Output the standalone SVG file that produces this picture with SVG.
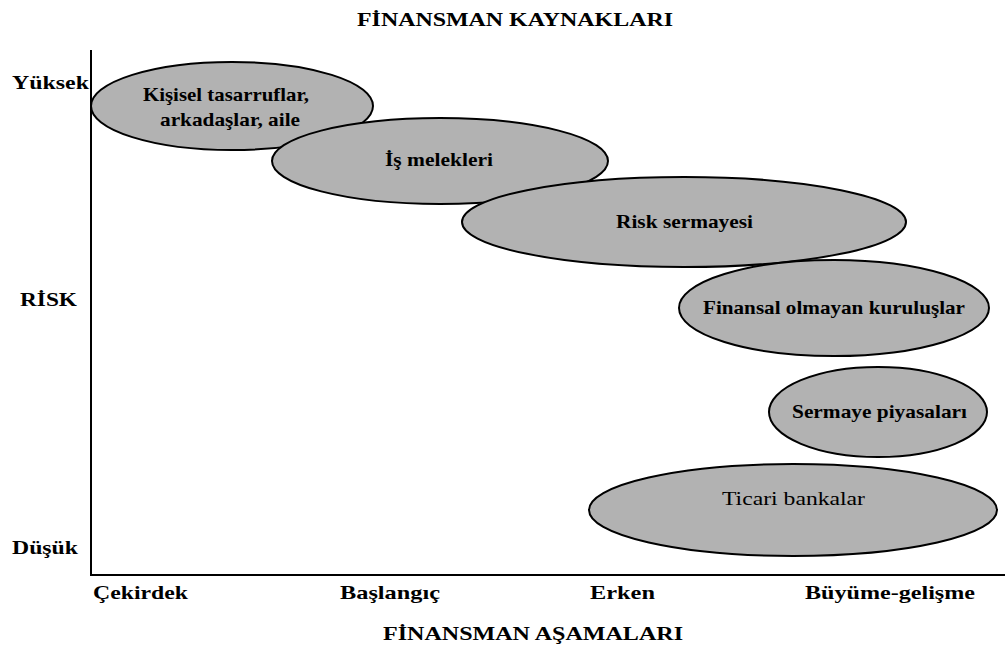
<svg xmlns="http://www.w3.org/2000/svg" width="1005" height="648" viewBox="0 0 1005 648">
<style>
.b{font-family:"Liberation Serif","Times New Roman",serif;font-weight:bold;font-size:19px;fill:#000}
.r{font-family:"Liberation Serif","Times New Roman",serif;font-size:19px;fill:#000}
.e{fill:#b2b2b2;stroke:#000;stroke-width:2}
</style>
<rect width="1005" height="648" fill="#fff"/>
<text class="b" x="357" y="26" font-size="20" textLength="316" lengthAdjust="spacingAndGlyphs">FİNANSMAN KAYNAKLARI</text>
<g id="axes" stroke="#000" stroke-width="2" fill="none">
<line x1="91" y1="50" x2="91" y2="576"/>
<line x1="90" y1="575" x2="1005" y2="575"/>
</g>
<g id="ylabels">
<text class="b" x="12" y="89" textLength="77" lengthAdjust="spacingAndGlyphs">Yüksek</text>
<text class="b" x="20" y="306" font-size="22" textLength="57" lengthAdjust="spacingAndGlyphs">RİSK</text>
<text class="b" x="12" y="554" textLength="66" lengthAdjust="spacingAndGlyphs">Düşük</text>
</g>
<g id="n1"><ellipse class="e" cx="232" cy="106" rx="141" ry="44"/>
<text class="b" x="143" y="101" textLength="166" lengthAdjust="spacingAndGlyphs">Kişisel tasarruflar,</text>
<text class="b" x="160" y="126" textLength="140" lengthAdjust="spacingAndGlyphs">arkadaşlar, aile</text></g>
<g id="n2"><ellipse class="e" cx="440" cy="161" rx="168" ry="43"/>
<text class="b" x="385" y="166" textLength="108" lengthAdjust="spacingAndGlyphs">İş melekleri</text></g>
<g id="n3"><ellipse class="e" cx="684" cy="222" rx="222" ry="45"/>
<text class="b" x="616" y="228" textLength="137" lengthAdjust="spacingAndGlyphs">Risk sermayesi</text></g>
<g id="n4"><ellipse class="e" cx="834" cy="308" rx="155" ry="48"/>
<text class="b" x="703" y="314" textLength="262" lengthAdjust="spacingAndGlyphs">Finansal olmayan kuruluşlar</text></g>
<g id="n5"><ellipse class="e" cx="878" cy="412" rx="109" ry="45"/>
<text class="b" x="792" y="418" textLength="175" lengthAdjust="spacingAndGlyphs">Sermaye piyasaları</text></g>
<g id="n6"><ellipse class="e" cx="793" cy="510" rx="204" ry="46"/>
<text class="r" x="722" y="505" textLength="143" lengthAdjust="spacingAndGlyphs">Ticari bankalar</text></g>
<g id="xlabels">
<text class="b" x="93" y="599" font-size="21" textLength="95" lengthAdjust="spacingAndGlyphs">Çekirdek</text>
<text class="b" x="340" y="599" font-size="21" textLength="100" lengthAdjust="spacingAndGlyphs">Başlangıç</text>
<text class="b" x="590" y="599" font-size="21" textLength="65" lengthAdjust="spacingAndGlyphs">Erken</text>
<text class="b" x="805" y="599" font-size="21" textLength="170" lengthAdjust="spacingAndGlyphs">Büyüme-gelişme</text>
</g>
<text class="b" x="383" y="640" font-size="21" textLength="300" lengthAdjust="spacingAndGlyphs">FİNANSMAN AŞAMALARI</text>
</svg>
